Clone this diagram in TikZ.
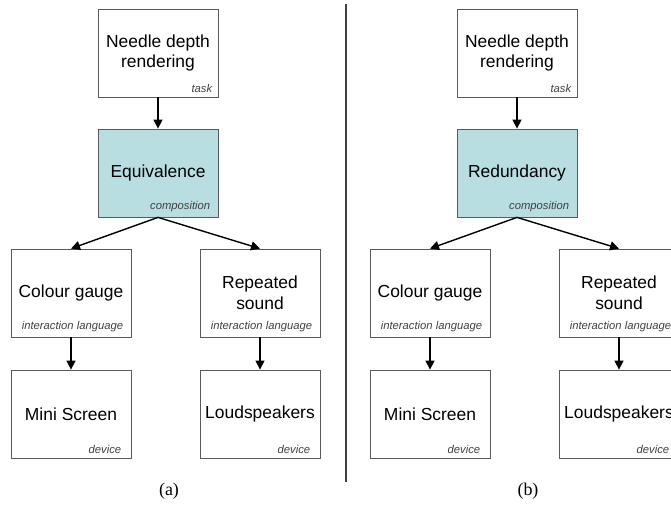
\documentclass[tikz,border=0pt]{standalone}
\usepackage{xcolor}
\usepackage{fontspec}
\setmainfont{Liberation Sans}
\newfontfamily\capfont{Liberation Serif}
\usepackage{tikz}
\usetikzlibrary{arrows.meta}

\definecolor{compfill}{RGB}{184,222,226}
\definecolor{boxline}{RGB}{90,90,90}

\begin{document}
\begin{tikzpicture}[x=1bp,y=-1bp]
        % Styles for the boxes, their tags and the links
        \tikzset{
            box/.style={draw=boxline, line width=0.8bp, minimum width=120bp, minimum height=88bp,
                align=center, inner sep=0pt, font=\fontsize{17.5}{21}\selectfont},
            comp/.style={box, fill=compfill},
            tag/.style={anchor=south east, inner sep=0pt, font=\fontsize{11.3}{13}\selectfont\itshape, text=black!75},
            link/.style={line width=1.4bp, -{Triangle[length=9bp,width=9bp]}}
        }
        \useasboundingbox (0,0) rectangle (671,513);

        % One tree per panel
        \foreach \p/\dx/\how/\cap in {a/0/Equivalence/(a), b/359/Redundancy/(b)} {
            \node[box]  (task\p)  at (\dx+158,53)  {Needle depth\\rendering};
            \node[comp] (comp\p)  at (\dx+158,173) {\how};
            \node[box]  (lang\p1) at (\dx+71,293)  {Colour gauge};
            \node[box]  (lang\p2) at (\dx+260,293) {Repeated\\sound};
            \node[box]  (dev\p1)  at (\dx+71,414)  {Mini Screen};
            \node[box]  (dev\p2)  at (\dx+260,414) {Loudspeakers};

            % Tags in the bottom right corners
            \node[tag, xshift=-6bp, yshift=5bp] (task\p-tag) at (task\p.south east) {task};
            \node[tag, xshift=-8bp, yshift=5bp] (comp\p-tag) at (comp\p.south east) {composition};
            \node[tag, xshift=-8bp, yshift=5bp] (lang\p1-tag) at (lang\p1.south east) {interaction language};
            \node[tag, xshift=-8bp, yshift=5bp] (lang\p2-tag) at (lang\p2.south east) {interaction language};
            \node[tag, xshift=-10bp, yshift=5bp] (dev\p1-tag) at (dev\p1.south east) {device};
            \node[tag, xshift=-10bp, yshift=5bp] (dev\p2-tag) at (dev\p2.south east) {device};

            % Links
            \draw[link] (task\p.south) -- (comp\p.north);
            \draw[link] (comp\p.south) -- (lang\p1.north);
            \draw[link] (comp\p.south) -- (lang\p2.north);
            \draw[link] (lang\p1.south) -- (dev\p1.north);
            \draw[link] (lang\p2.south) -- (dev\p2.north);

            % Caption
            \node[font=\capfont\fontsize{18}{20}\selectfont] (cap\p) at (\dx+169,491) {\cap};
        }

        % Separator between the two panels
        \draw[line width=2bp, black!75] (346,4) -- (346,482);
    \end{tikzpicture}
\end{document}
